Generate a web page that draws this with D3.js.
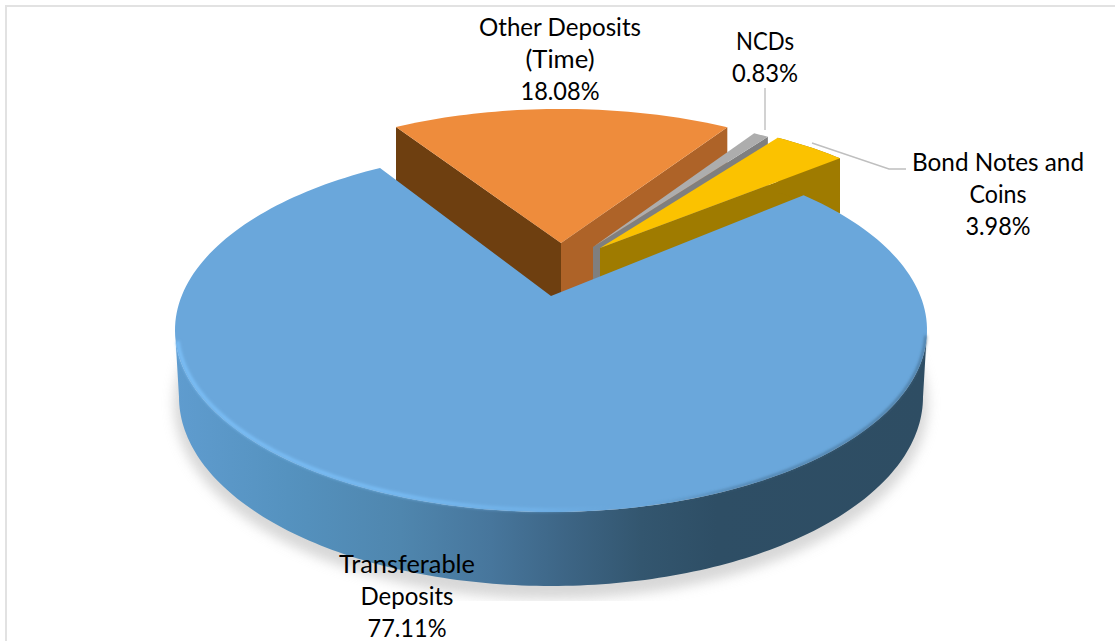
<!DOCTYPE html>
<html><head><meta charset="utf-8">
<script src="https://cdn.jsdelivr.net/npm/d3@7"></script>
<style>html,body{margin:0;padding:0;background:#fff;overflow:hidden}svg{display:block}text{font-family:Lato,"Open Sans",sans-serif;font-size:24.2px;fill:#000;text-anchor:middle}</style>
</head><body><svg id="c" width="1115" height="641"></svg>
<script>
// ---- data ----
const categories = ["Transferable Deposits","Other Deposits (Time)","NCDs","Bond Notes and Coins"];
const shareValues = [77.11,18.08,0.83,3.98];
const labelLines = [["Transferable","Deposits","77.11%"],["Other Deposits","(Time)","18.08%"],["NCDs","0.83%"],["Bond Notes and","Coins","3.98%"]];
const firstSliceAngle = 50;
// ---- layout (per slice: explosion result in screen space) ----
const apexX = [551,561,593,600], apexY = [296,243,247,248];
const scaleX = [1,.965,.935,.95], scaleY = [1,.906,.89,.89];
const wallDepth = [0,62,50,55];
const topColors = ["#6AA7DB","#EE8C3C","#ADADAD","#FBC200"];
const wallStart = [null,"#6E3F10",null,null];
const wallEnd = [null,"#AE6328","#7F7F7F","#9F7B00"];
const labelX = [407,560,765,998], labelY = [573,36,50,171];
const labelWidths = [[136,93,79],[162,69,79],[58,66],[172,57,65]];
const ell = {cx:551,cy:330,rx:376,ry:182}, base = {cx:551,cy:397,rx:372,ry:189};

const svg = d3.select("#c");
const defs = svg.append("defs");
const blur = (id,s)=>defs.append("filter").attr("id",id).attr("x","-10%").attr("y","-10%").attr("width","120%").attr("height","120%").append("feGaussianBlur").attr("stdDeviation",s);
blur("sh",6); blur("soft",1.4);
const grad=(id,stops)=>{const g=defs.append("linearGradient").attr("id",id).attr("gradientUnits","userSpaceOnUse").attr("x1",175).attr("x2",927).attr("y1",0).attr("y2",0);
  stops.forEach(s=>g.append("stop").attr("offset",s[0]).attr("stop-color",s[1]).attr("stop-opacity",s[2]===undefined?1:s[2]));};
grad("side",[[0,"#5F9CCF"],[.15,"#5592BF"],[.3,"#4F86AE"],[.42,"#47769C"],[.52,"#3D6585"],[.62,"#33566F"],[.72,"#2E4E65"],[1,"#2E4D63"]]);
grad("rim",[[0,"#7CC0F8"],[.3,"#78BCF4"],[.48,"#74B7EF",.7],[.58,"#6FB2EA",0],[1,"#6FB2EA",0]]);
grad("rimDark",[[0,"#3C6484",0],[.62,"#3C6484",0],[.75,"#3C6484",.7],[1,"#3C6484",.9]]);
defs.append("clipPath").attr("id","clipShadow").append("rect").attr("x",0).attr("y",0).attr("width",1115).attr("height",601);

// frame: only top and left edges fall inside the picture
svg.append("path").attr("d",d3.line()([[6,641],[6,6],[1115,6]])).attr("fill","none").attr("stroke","#E2E2E2").attr("stroke-width",2);

// ---- geometry from d3.pie angles, through a perspective tilt of the disc ----
const tilt = (apexY[0]-ell.cy)/ell.ry, kT = Math.sqrt(1-tilt*tilt);
function rel(t){const u=Math.sin(t),v=-Math.cos(t),d=1+tilt*v;
  return [u*kT/d*ell.rx,(v+tilt)/d*ell.ry+ell.cy-apexY[0]];}
const pt=(t,i)=>{const r=rel(t);return [apexX[i]+r[0]*scaleX[i],apexY[i]+r[1]*scaleY[i]];};
const rad=d3.scaleLinear().domain([0,360]).range([0,2*Math.PI]);
const pie=d3.pie().sort(null).value(d=>d).startAngle(rad(firstSliceAngle)).endAngle(rad(firstSliceAngle+360));
const arcs=pie(shareValues);
const line=d3.line();
const arcPts=(a,i)=>{const n=Math.ceil((a.endAngle-a.startAngle)*40);return d3.range(n+1).map(k=>pt(a.startAngle+(a.endAngle-a.startAngle)*k/n,i));};
const slicePath=(a,i)=>line([[apexX[i],apexY[i]],...arcPts(a,i)])+"Z";
const wall=(t,i)=>{const p=pt(t,i),q=[apexX[i],apexY[i]],h=wallDepth[i];return line([q,p,[p[0],p[1]+h],[q[0],q[1]+h]])+"Z";};

// shadow of disc
const ellPts=(e,a0,a1,n=160)=>d3.range(n+1).map(k=>{const a=a0+(a1-a0)*k/n;return [e.cx+e.rx*Math.cos(a),e.cy+e.ry*Math.sin(a)];});
svg.append("g").attr("clip-path","url(#clipShadow)").append("path")
  .attr("d",line(ellPts({cx:base.cx,cy:base.cy+7,rx:base.rx+5,ry:base.ry+6},0,2*Math.PI))+"Z").attr("fill","#BDBDBD").attr("opacity",.6).attr("filter","url(#sh)");

// back slices, painter's order
[1,2,3].forEach(i=>{
  const a=arcs[i];
  const g=svg.append("g");
  if(wallStart[i]) g.append("path").attr("d",wall(a.startAngle,i)).attr("fill",wallStart[i]);
  if(wallEnd[i]) g.append("path").attr("d",wall(a.endAngle,i)).attr("fill",wallEnd[i]);
  if(i===3){ // yellow outer edge
    const outer=arcPts(a,i);
    g.append("path").attr("d",line([...outer,...outer.slice().reverse().map(p=>[p[0],p[1]+wallDepth[i]])])+"Z").attr("fill",wallEnd[i]);
  }
  g.append("path").attr("d",slicePath(a,i)).attr("fill",topColors[i]);
});

// big slice: side wall then top
const topRight=ellPts(ell,0,Math.PI), botBack=ellPts(base,Math.PI,0);
svg.append("path").attr("d",line([...topRight,...botBack])+"Z").attr("fill","url(#side)");
svg.append("path").attr("d",slicePath(arcs[0],0)).attr("fill",topColors[0]);
svg.append("path").attr("d",line(ellPts({cx:ell.cx,cy:ell.cy,rx:ell.rx-2,ry:ell.ry-2},Math.PI*.98,Math.PI*.2))).attr("fill","none").attr("stroke","url(#rim)").attr("stroke-width",3.5).attr("filter","url(#soft)");
svg.append("path").attr("d",line(ellPts({cx:ell.cx,cy:ell.cy,rx:ell.rx-1,ry:ell.ry-1},Math.PI*.5,Math.PI*.01))).attr("fill","none").attr("stroke","url(#rimDark)").attr("stroke-width",2).attr("filter","url(#soft)");

// leader lines
const leaders=[[ [765,88],[765,130] ],[ [812,143],[889,169],[906,169] ]];
svg.selectAll("path.leader").data(leaders).join("path").attr("class","leader").attr("d",d=>line(d)).attr("fill","none").attr("stroke","#BFBFBF").attr("stroke-width",1.4);

// labels
labelLines.forEach((ls,i)=>{
  const t=svg.append("text").attr("x",labelX[i]).attr("y",labelY[i]);
  ls.forEach((s,k)=>t.append("tspan").attr("x",labelX[i]).attr("y",labelY[i]+k*32).attr("textLength",labelWidths[i][k]).attr("lengthAdjust","spacingAndGlyphs").text(s));
});
</script></body></html>
